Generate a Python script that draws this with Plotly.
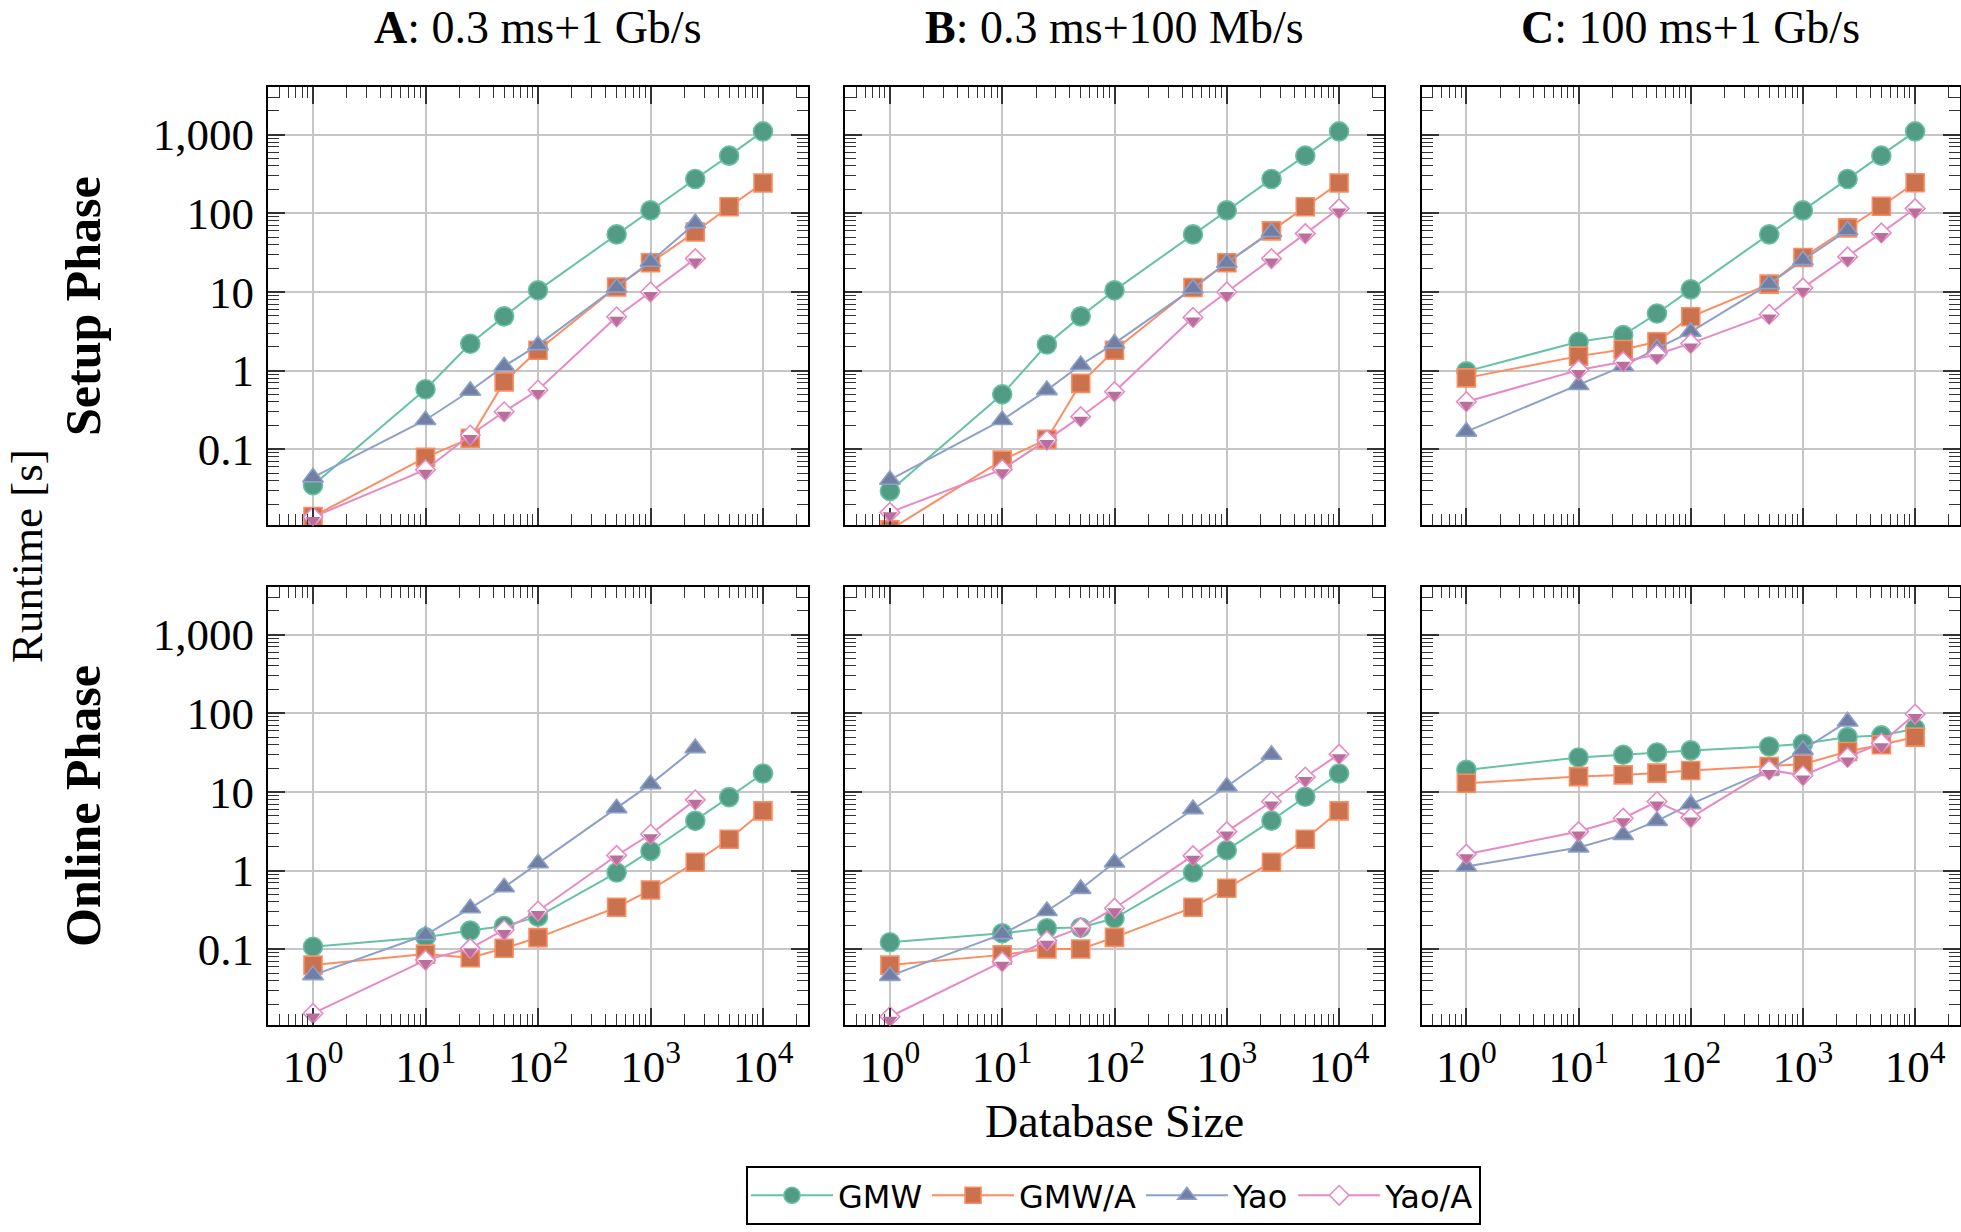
import plotly.graph_objects as go

# ---------------- data ----------------
DB_SIZE = [1, 10, 25, 50, 100, 500, 1000, 2500, 5000, 10000]
SERIES = ["GMW", "GMW/A", "Yao", "Yao/A"]

COL_TITLES = ["<b>A</b>: 0.3 ms+1 Gb/s", "<b>B</b>: 0.3 ms+100 Mb/s", "<b>C</b>: 100 ms+1 Gb/s"]
ROW_TITLES = ["<b>Setup Phase</b>", "<b>Online Phase</b>"]
X_TICKS = [1, 10, 100, 1000, 10000]
X_TICK_TEXT = ["10<sup>0</sup>", "10<sup>1</sup>", "10<sup>2</sup>", "10<sup>3</sup>", "10<sup>4</sup>"]
Y_TICKS = [0.1, 1, 10, 100, 1000]
Y_TICK_TEXT = ["0.1", "1", "10", "100", "1,000"]

# Setup phase
setup_A_gmw = [0.035, 0.58, 2.2, 4.9, 10.5, 54, 109, 273, 541, 1100]
setup_A_gmwa = [0.014, 0.079, 0.138, 0.72, 1.82, 11.6, 23.5, 58, 121, 243]
setup_A_yao = [0.044, 0.236, 0.556, 1.14, 2.11, 11.4, 24.2, 75]
setup_A_yaoa = [0.0138, 0.055, 0.152, 0.30, 0.567, 4.84, 10.0, 26.6]

setup_B_gmw = [0.0296, 0.50, 2.15, 4.9, 10.5, 54, 109, 273, 541, 1100]
setup_B_gmwa = [0.0095, 0.073, 0.134, 0.69, 1.82, 11.4, 23.5, 59.8, 121, 243]
setup_B_yao = [0.041, 0.236, 0.566, 1.18, 2.22, 11.1, 23.5, 58]
setup_B_yaoa = [0.0158, 0.0557, 0.131, 0.26, 0.54, 4.75, 10.0, 26.6, 55.3, 115]

setup_C_gmw = [0.98, 2.33, 2.83, 5.33, 10.8, 54, 109, 273, 541, 1100]
setup_C_gmwa = [0.81, 1.53, 1.86, 2.33, 4.84, 12.6, 27.4, 65.3, 123, 245]
setup_C_yao = [0.168, 0.656, 1.14, 1.92, 3.12, 12.6, 25.4, 61]
setup_C_yaoa = [0.403, 1.02, 1.30, 1.62, 2.22, 5.18, 11.3, 28.0, 56.4, 115]

# Online phase
online_A_gmw = [0.108, 0.142, 0.173, 0.198, 0.26, 0.946, 1.78, 4.30, 8.6, 17.2]
online_A_gmwa = [0.063, 0.087, 0.078, 0.103, 0.141, 0.342, 0.569, 1.28, 2.51, 5.75]
online_A_yao = [0.047, 0.152, 0.333, 0.615, 1.24, 6.22, 12.6, 36.1]
online_A_yaoa = [0.0153, 0.073, 0.103, 0.176, 0.307, 1.56, 2.9, 7.95]

online_B_gmw = [0.123, 0.16, 0.185, 0.189, 0.248, 0.946, 1.82, 4.32, 8.7, 17.2]
online_B_gmwa = [0.063, 0.085, 0.101, 0.101, 0.142, 0.342, 0.597, 1.28, 2.51, 5.75]
online_B_yao = [0.046, 0.156, 0.307, 0.586, 1.27, 6.05, 11.75, 29.7]
online_B_yaoa = [0.0139, 0.0697, 0.129, 0.189, 0.333, 1.55, 3.14, 7.57, 15.5, 30.3]

online_C_gmw = [19.1, 27.5, 29.7, 31.8, 33.8, 37.9, 41, 49.9, 52.4, 63.7]
online_C_gmwa = [12.9, 15.7, 16.5, 17.4, 18.8, 21.1, 22.6, 32.7, 39.8, 49.9]
online_C_yao = [1.13, 1.97, 2.85, 4.3, 7.0, 19.1, 34.4, 78.9]
online_C_yaoa = [1.62, 3.14, 4.64, 7.57, 4.73, 19.1, 16.2, 27.5, 41.8, 97.8]

PANELS = [
    [setup_A_gmw, setup_A_gmwa, setup_A_yao, setup_A_yaoa],
    [setup_B_gmw, setup_B_gmwa, setup_B_yao, setup_B_yaoa],
    [setup_C_gmw, setup_C_gmwa, setup_C_yao, setup_C_yaoa],
    [online_A_gmw, online_A_gmwa, online_A_yao, online_A_yaoa],
    [online_B_gmw, online_B_gmwa, online_B_yao, online_B_yaoa],
    [online_C_gmw, online_C_gmwa, online_C_yao, online_C_yaoa],
]

# ---------------- style ----------------
W, H = 1961, 1232
LINE = {"GMW": "#66c2a5", "GMW/A": "#fc8d62", "Yao": "#8da0cb", "Yao/A": "#e78ac3"}
FILL = {"GMW": "#529b84", "GMW/A": "#ca714e", "Yao": "#7180a2", "Yao/A": "#b96e9c"}
SYM = {"GMW": "circle", "GMW/A": "square", "Yao": "triangle-up", "Yao/A": "diamond"}
SIZE = {"GMW": 19, "GMW/A": 18, "Yao": 18, "Yao/A": 15}
HALF_SIZE = 13                 # lower-half fill of the Yao/A diamond
HALF_SHIFT = HALF_SIZE / 4.0   # px: moves the triangle's flat edge onto the marker centre

SERIF = "Liberation Serif"
XDOM = [[268 / W, 808 / W], [845 / W, 1384 / W], [1421.5 / W, 1960 / W]]
YDOM = [[1 - 525 / H, 1 - 87 / H], [1 - 1025 / H, 1 - 587 / H]]
Y_RANGE = [-1.962, 3.606]
X_RANGE = [-0.4, 4.4]

fig = go.Figure()

for i, panel in enumerate(PANELS):
    idx = i + 1
    xa = "x" if idx == 1 else f"x{idx}"
    ya = "y" if idx == 1 else f"y{idx}"
    xa_half = f"x{idx + 6}"
    ya_half = f"y{idx + 6}"
    for name, vals in zip(SERIES, panel):
        xs = DB_SIZE[:len(vals)]
        half = name == "Yao/A"
        fig.add_trace(go.Scatter(
            x=xs, y=vals, mode="lines+markers", name=name, legendgroup=name,
            showlegend=(idx == 1), xaxis=xa, yaxis=ya,
            line=dict(color=LINE[name], width=2),
            marker=dict(symbol=SYM[name], size=SIZE[name],
                        color="white" if half else FILL[name],
                        line=dict(color=LINE[name], width=1.6)),
        ))
        if half:
            fig.add_trace(go.Scatter(
                x=xs, y=vals, mode="markers", showlegend=False, legendgroup=name,
                xaxis=xa_half, yaxis=ya_half, hoverinfo="skip",
                marker=dict(symbol="triangle-down", size=HALF_SIZE,
                            color=FILL[name], line=dict(width=0)),
            ))

tickfont = dict(family=SERIF, size=45, color="black")
axis_common = dict(
    type="log", ticks="inside", ticklen=17, tickwidth=1.5, tickcolor="#333",
    showgrid=True, gridcolor="#c6c6c6", gridwidth=2,
    showline=True, linecolor="black", linewidth=2, mirror="ticks",
    zeroline=False, tickfont=tickfont, automargin=False,
    minor=dict(ticks="inside", ticklen=11, tickwidth=1.3, tickcolor="#333",
               dtick="D1", showgrid=False),
)

layout_axes = {}
for i in range(6):
    idx = i + 1
    r, c = divmod(i, 3)
    xkey = "xaxis" if idx == 1 else f"xaxis{idx}"
    ykey = "yaxis" if idx == 1 else f"yaxis{idx}"
    ya = "y" if idx == 1 else f"y{idx}"
    xa = "x" if idx == 1 else f"x{idx}"
    layout_axes[xkey] = dict(axis_common, domain=XDOM[c], anchor=ya, range=X_RANGE,
                             tickmode="array", tickvals=X_TICKS, ticktext=X_TICK_TEXT,
                             showticklabels=(r == 1), ticklabelstandoff=1)
    layout_axes[ykey] = dict(axis_common, domain=YDOM[r], anchor=xa, range=Y_RANGE,
                             tickmode="array", tickvals=Y_TICKS, ticktext=Y_TICK_TEXT,
                             showticklabels=(c == 0), ticklabelstandoff=3)
    # hidden helper axes, same scales, shifted a few px down: carry the half-fill
    d = HALF_SHIFT / H
    layout_axes[f"xaxis{idx + 6}"] = dict(type="log", range=X_RANGE, domain=XDOM[c],
                                          anchor=f"y{idx + 6}", visible=False,
                                          showgrid=False, zeroline=False)
    layout_axes[f"yaxis{idx + 6}"] = dict(type="log", range=Y_RANGE, anchor=f"x{idx + 6}",
                                          domain=[YDOM[r][0] - d, YDOM[r][1] - d],
                                          visible=False, showgrid=False, zeroline=False)

fig.update_layout(**layout_axes)

annotations = []
for c, t in enumerate(COL_TITLES):
    annotations.append(dict(text=t, x=(XDOM[c][0] + XDOM[c][1]) / 2, y=1,
                            xref="paper", yref="paper", xanchor="center", yanchor="top",
                            showarrow=False, font=dict(family=SERIF, size=46, color="black")))
for r, t in enumerate(ROW_TITLES):
    annotations.append(dict(text=t, x=83 / W, y=(YDOM[r][0] + YDOM[r][1]) / 2,
                            xref="paper", yref="paper", xanchor="center", yanchor="middle",
                            textangle=-90, showarrow=False,
                            font=dict(family=SERIF, size=50, color="black")))
annotations.append(dict(text="Runtime [s]", x=0, y=1 - 556 / H, xref="paper", yref="paper",
                        xanchor="left", yanchor="middle", textangle=-90, showarrow=False,
                        font=dict(family=SERIF, size=45, color="black")))
annotations.append(dict(text="Database Size", x=1114 / W, y=1 - 1121 / H, xref="paper", yref="paper",
                        xanchor="center", yanchor="middle", showarrow=False,
                        font=dict(family=SERIF, size=46, color="black")))

fig.update_layout(
    width=W, height=H,
    margin=dict(l=0, r=0, t=0, b=0),
    paper_bgcolor="white", plot_bgcolor="rgba(0,0,0,0)",
    annotations=annotations,
    showlegend=True,
    legend=dict(orientation="h", x=1113.5 / W, xanchor="center", y=1 - 1166 / H, yanchor="top",
                bordercolor="black", borderwidth=2, bgcolor="white",
                font=dict(family="DejaVu Sans", size=32, color="black"),
                itemwidth=82, tracegroupgap=0),
)

fig.write_html("out.html", config={"displayModeBar": False},
               post_script="document.body.style.margin='0';")
